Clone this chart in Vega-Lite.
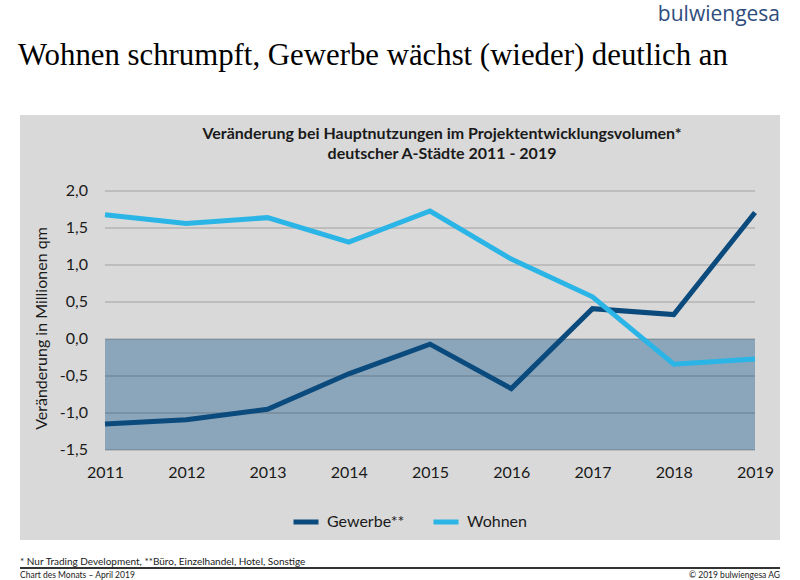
{
  "$schema": "https://vega.github.io/schema/vega-lite/v6.json",
  "width": 650,
  "height": 259,
  "autosize": {"type": "none"},
  "padding": {"left": 105, "top": 191, "right": 45, "bottom": 130},
  "background": "#ffffff",
  "config": {
    "view": {"stroke": null},
    "font": "Lato",
    "axis": {"labelOverlap": false},
    "locale": {"number": {"decimal": ",", "thousands": ".", "grouping": [3], "currency": ["", " €"], "minus": "-"}}
  },
  "data": {
    "values": [
      {"year": 2011, "series": "Gewerbe**", "value": -1.15},
      {"year": 2012, "series": "Gewerbe**", "value": -1.09},
      {"year": 2013, "series": "Gewerbe**", "value": -0.95},
      {"year": 2014, "series": "Gewerbe**", "value": -0.47},
      {"year": 2015, "series": "Gewerbe**", "value": -0.07},
      {"year": 2016, "series": "Gewerbe**", "value": -0.67},
      {"year": 2017, "series": "Gewerbe**", "value": 0.41},
      {"year": 2018, "series": "Gewerbe**", "value": 0.33},
      {"year": 2019, "series": "Gewerbe**", "value": 1.71},
      {"year": 2011, "series": "Wohnen", "value": 1.68},
      {"year": 2012, "series": "Wohnen", "value": 1.56},
      {"year": 2013, "series": "Wohnen", "value": 1.64},
      {"year": 2014, "series": "Wohnen", "value": 1.31},
      {"year": 2015, "series": "Wohnen", "value": 1.73},
      {"year": 2016, "series": "Wohnen", "value": 1.08},
      {"year": 2017, "series": "Wohnen", "value": 0.57},
      {"year": 2018, "series": "Wohnen", "value": -0.34},
      {"year": 2019, "series": "Wohnen", "value": -0.27}
    ]
  },
  "layer": [
    {
      "data": {"values": [{}]},
      "mark": {"type": "rect", "fill": "#d9d9d9", "clip": false},
      "encoding": {
        "x": {"datum": 2009.954, "type": "quantitative"},
        "x2": {"datum": 2019.308},
        "y": {"datum": 3.027, "type": "quantitative"},
        "y2": {"datum": -2.716}
      }
    },
    {
      "data": {"values": [{}]},
      "mark": {"type": "rect", "fill": "#8ba6bb"},
      "encoding": {
        "x": {"datum": 2011, "type": "quantitative"},
        "x2": {"datum": 2019},
        "y": {"datum": 0, "type": "quantitative"},
        "y2": {"datum": -1.5}
      }
    },
    {
      "data": {"values": [{"g": 2.0}, {"g": 1.5}, {"g": 1.0}, {"g": 0.5}, {"g": 0.0}, {"g": -0.5}, {"g": -1.0}, {"g": -1.5}]},
      "layer": [
        {
          "mark": {"type": "rule", "stroke": "#000000", "strokeOpacity": 0.25, "strokeWidth": 1.2},
          "encoding": {
            "x": {"datum": 2011, "type": "quantitative"},
            "x2": {"datum": 2019},
            "y": {"field": "g", "type": "quantitative", "title": "Veränderung in Millionen qm"}
          }
        },
        {
          "mark": {"type": "text", "align": "right", "baseline": "middle", "font": "Lato", "fontSize": 16, "color": "#1a1a1a", "clip": false},
          "encoding": {
            "x": {"datum": 2010.79, "type": "quantitative"},
            "y": {"field": "g", "type": "quantitative", "title": "Veränderung in Millionen qm"},
            "text": {"field": "g", "type": "quantitative", "format": ".1f"}
          }
        }
      ]
    },
    {
      "mark": {"type": "line", "strokeWidth": 5, "strokeCap": "butt", "strokeJoin": "miter"},
      "encoding": {
        "x": {
          "field": "year", "type": "quantitative",
          "scale": {"domain": [2011, 2019], "nice": false, "zero": false},
          "axis": {
            "values": [2011, 2012, 2013, 2014, 2015, 2016, 2017, 2018, 2019],
            "format": "d", "title": null, "grid": false, "domain": false, "ticks": false,
            "labelFont": "Lato", "labelFontSize": 16, "labelColor": "#1a1a1a",
            "labelPadding": 14, "labelFlush": false, "labelOverlap": false, "zindex": 1
          }
        },
        "y": {
          "field": "value", "type": "quantitative",
          "title": "Veränderung in Millionen qm",
          "scale": {"domain": [-1.5, 2.0], "nice": false, "zero": false},
          "axis": {
            "labels": false,
            "grid": false, "domain": false, "ticks": false,
            "titleFont": "Lato", "titleFontSize": 16, "titleFontWeight": "normal",
            "titleColor": "#1a1a1a", "titlePadding": 56, "titleY": 137, "zindex": 1
          }
        },
        "color": {
          "field": "series", "type": "nominal",
          "scale": {"domain": ["Gewerbe**", "Wohnen"], "range": ["#0b4a7d", "#2bb5e6"]},
          "legend": {
            "title": null, "orient": "none", "direction": "horizontal",
            "legendX": 186, "legendY": 316,
            "symbolType": "stroke", "symbolStrokeWidth": 5, "symbolSize": 625,
            "labelFont": "Lato", "labelFontSize": 16, "labelColor": "#1a1a1a",
            "columnPadding": 18, "labelOffset": 6
          }
        }
      }
    },
    {
      "data": {"values": [{}]},
      "mark": {"type": "text", "text": "Wohnen schrumpft, Gewerbe wächst (wieder) deutlich an", "font": "Liberation Serif", "fontSize": 30.8, "align": "left", "baseline": "alphabetic", "color": "#000000", "clip": false},
      "encoding": {"x": {"datum": 2009.929, "type": "quantitative"}, "y": {"datum": 3.7027, "type": "quantitative"}}
    },
    {
      "data": {"values": [{}]},
      "mark": {"type": "text", "text": "bulwiengesa", "font": "Open Sans", "fontSize": 21, "align": "right", "baseline": "alphabetic", "color": "#2f4d7c", "clip": false},
      "encoding": {"x": {"datum": 2019.308, "type": "quantitative"}, "y": {"datum": 4.297, "type": "quantitative"}}
    },
    {
      "data": {"values": [{}]},
      "mark": {"type": "text", "text": "Veränderung bei Hauptnutzungen im Projektentwicklungsvolumen*", "font": "Lato", "fontSize": 16, "fontWeight": "bold", "align": "center", "baseline": "alphabetic", "color": "#1a1a1a", "clip": false},
      "encoding": {"x": {"datum": 2015.148, "type": "quantitative"}, "y": {"datum": 2.696, "type": "quantitative"}}
    },
    {
      "data": {"values": [{}]},
      "mark": {"type": "text", "text": "deutscher A-Städte 2011 - 2019", "font": "Lato", "fontSize": 16, "fontWeight": "bold", "align": "center", "baseline": "alphabetic", "color": "#1a1a1a", "clip": false},
      "encoding": {"x": {"datum": 2015.148, "type": "quantitative"}, "y": {"datum": 2.4257, "type": "quantitative"}}
    },
    {
      "data": {"values": [{}]},
      "mark": {"type": "text", "text": "* Nur Trading Development, **Büro, Einzelhandel, Hotel, Sonstige", "font": "Lato", "fontSize": 10, "align": "left", "baseline": "alphabetic", "color": "#1a1a1a", "clip": false},
      "encoding": {"x": {"datum": 2009.954, "type": "quantitative"}, "y": {"datum": -3.054, "type": "quantitative"}}
    },
    {
      "data": {"values": [{}]},
      "mark": {"type": "rule", "stroke": "#333333", "strokeWidth": 2, "clip": false},
      "encoding": {
        "x": {"datum": 2009.954, "type": "quantitative"},
        "x2": {"datum": 2019.308},
        "y": {"datum": -3.095, "type": "quantitative"}
      }
    },
    {
      "data": {"values": [{}]},
      "mark": {"type": "text", "text": "Chart des Monats – April 2019", "font": "Lato", "fontSize": 8.5, "align": "left", "baseline": "top", "color": "#1a1a1a", "clip": false},
      "encoding": {"x": {"datum": 2009.954, "type": "quantitative"}, "y": {"datum": -3.135, "type": "quantitative"}}
    },
    {
      "data": {"values": [{}]},
      "mark": {"type": "text", "text": "© 2019 bulwiengesa AG", "font": "Lato", "fontSize": 8.5, "align": "right", "baseline": "top", "color": "#1a1a1a", "clip": false},
      "encoding": {"x": {"datum": 2019.308, "type": "quantitative"}, "y": {"datum": -3.135, "type": "quantitative"}}
    }
  ]
}
